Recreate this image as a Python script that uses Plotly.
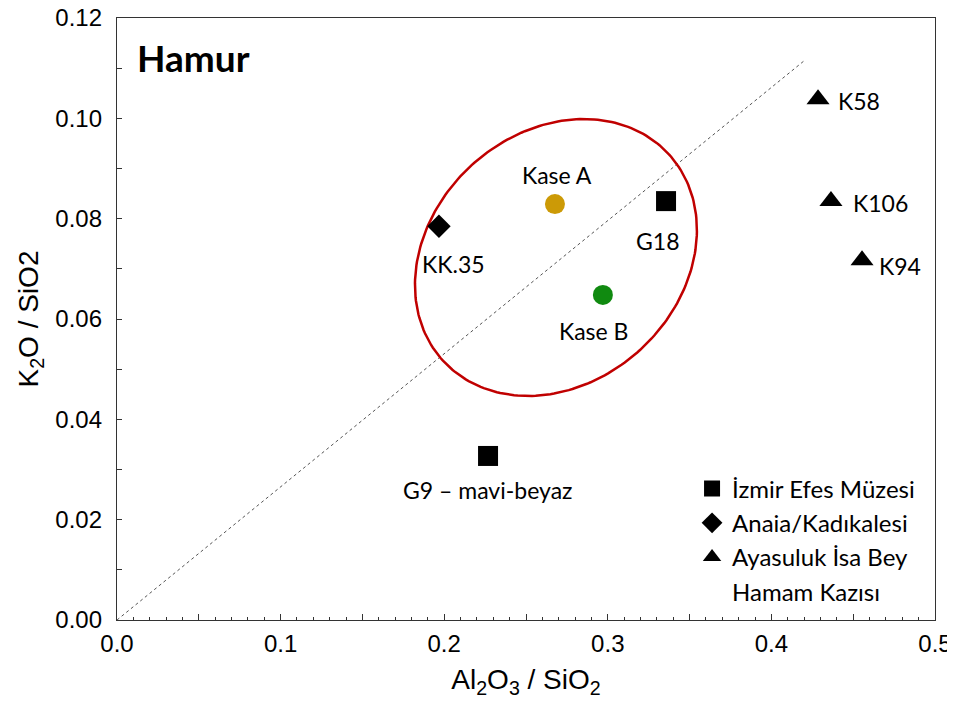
import numpy as np
import plotly.graph_objects as go

# ---- data ----
efes_labels = ["G18", "G9 – mavi-beyaz"]
efes_x = [0.3356, 0.2268]
efes_y = [0.0835, 0.0327]

anaia_labels = ["KK.35"]
anaia_x = [0.1968]
anaia_y = [0.0785]

ayasuluk_labels = ["K58", "K106", "K94"]
ayasuluk_x = [0.4285, 0.4364, 0.4554]
ayasuluk_y = [0.1038, 0.0835, 0.0717]

kase_labels = ["Kase A", "Kase B"]
kase_x = [0.2677, 0.2970]
kase_y = [0.0829, 0.0648]

ref_line_x = [0.0, 0.4205]
ref_line_y = [0.0, 0.1116]

# ellipse (centre and parametric half-vectors, data units)
ell_center = (0.2683, 0.07226)
ell_u = (0.06907, 0.02057)
ell_v = (-0.05153, 0.01840)

x_tickvals = [0.0, 0.05, 0.1, 0.15, 0.2, 0.25, 0.3, 0.35, 0.4, 0.45, 0.5]
x_ticktext = ["0.0", "", "0.1", "", "0.2", "", "0.3", "", "0.4", "", "0.5"]
y_tickvals = [0.0, 0.02, 0.04, 0.06, 0.08, 0.10, 0.12]
y_ticktext = ["0.00", "0.02", "0.04", "0.06", "0.08", "0.10", "0.12"]

LABEL_FONT = "Lato, 'Open Sans', sans-serif"
AXIS_FONT = "'Liberation Sans', Arial, sans-serif"

fig = go.Figure()

# reference diagonal line
fig.add_trace(go.Scatter(x=ref_line_x, y=ref_line_y, mode="lines",
                         line=dict(color="#555555", width=1, dash="dot"),
                         showlegend=False, hoverinfo="skip"))

# ellipse
t = np.linspace(0, 2 * np.pi, 241)
ex = ell_center[0] + ell_u[0] * np.cos(t) + ell_v[0] * np.sin(t)
ey = ell_center[1] + ell_u[1] * np.cos(t) + ell_v[1] * np.sin(t)
fig.add_trace(go.Scatter(x=ex, y=ey, mode="lines",
                         line=dict(color="#C00000", width=2.5),
                         showlegend=False, hoverinfo="skip"))

fig.add_trace(go.Scatter(x=efes_x, y=efes_y, mode="markers", name="İzmir Efes Müzesi",
                         legendgroup="a",
                         marker=dict(symbol="square", size=20, color="black")))
fig.add_trace(go.Scatter(x=anaia_x, y=anaia_y, mode="markers", name="Anaia/Kadıkalesi",
                         legendgroup="b",
                         marker=dict(symbol="diamond", size=18, color="black")))
fig.add_trace(go.Scatter(x=ayasuluk_x, y=ayasuluk_y, mode="markers",
                         name="Ayasuluk İsa Bey",
                         legendgroup="c",
                         marker=dict(symbol="triangle-up", size=20, color="black")))
# second line of the legend entry (no marks)
fig.add_trace(go.Scatter(x=[None], y=[None], mode="markers", name="Hamam Kazısı",
                         legendgroup="d", hoverinfo="skip",
                         marker=dict(symbol="square", size=1, opacity=0, color="white")))
fig.add_trace(go.Scatter(x=kase_x, y=kase_y, mode="markers", showlegend=False,
                         marker=dict(symbol="circle", size=20,
                                     color=["#CC9A06", "#108A10"])))

# point labels: (xshift, yshift, xanchor)
label_offsets = {
    "G18": (-9, -40, "center"),
    "G9 – mavi-beyaz": (-1, -34, "center"),
    "KK.35": (15, -38, "center"),
    "K58": (18, -2, "left"),
    "K106": (20, -2, "left"),
    "K94": (15, -6, "left"),
    "Kase A": (2, 29, "center"),
    "Kase B": (-9, -36, "center"),
}
for labs, xs, ys in [(efes_labels, efes_x, efes_y), (anaia_labels, anaia_x, anaia_y),
                     (ayasuluk_labels, ayasuluk_x, ayasuluk_y), (kase_labels, kase_x, kase_y)]:
    for lab, xv, yv in zip(labs, xs, ys):
        dx, dy, anc = label_offsets[lab]
        fig.add_annotation(x=xv, y=yv, text=lab, showarrow=False,
                           xshift=dx, yshift=dy, xanchor=anc, yanchor="middle",
                           font=dict(family=LABEL_FONT, size=23, color="black"))

fig.add_annotation(xref="paper", yref="paper", x=0.022, y=0.934, text="<b>Hamur</b>",
                   showarrow=False, xanchor="left", yanchor="middle",
                   font=dict(family=LABEL_FONT, size=37, color="black"))

fig.update_layout(
    width=945, height=691,
    margin=dict(l=109, r=18, t=10, b=79),
    paper_bgcolor="white", plot_bgcolor="white",
    font=dict(family=AXIS_FONT, color="black"),
    legend=dict(x=0.703, y=0.255, xanchor="left", yanchor="top",
                traceorder="grouped", tracegroupgap=0,
                bgcolor="rgba(0,0,0,0)",
                font=dict(family=LABEL_FONT, size=24, color="black"),
                itemsizing="trace"),
    xaxis=dict(range=[0, 0.5], tickvals=x_tickvals, ticktext=x_ticktext,
               ticks="inside", ticklen=6, tickwidth=1, tickcolor="#333",
               minor=dict(dtick=0.01, ticks="inside", ticklen=3, tickcolor="#333"),
               showline=True, linecolor="#333", linewidth=1.3, mirror=True,
               showgrid=False, zeroline=False, automargin=False,
               ticklabeloverflow="allow",
               tickfont=dict(size=24, family=AXIS_FONT),
               ticklabelstandoff=2,
               title=dict(text="Al<sub>2</sub>O<sub>3</sub> / SiO<sub>2</sub>",
                          font=dict(size=28, family=AXIS_FONT), standoff=29)),
    yaxis=dict(range=[0, 0.12], tickvals=y_tickvals, ticktext=y_ticktext,
               ticks="inside", ticklen=5, tickwidth=1, tickcolor="#333",
               minor=dict(dtick=0.01, ticks="inside", ticklen=5, tickcolor="#333"),
               showline=True, linecolor="#333", linewidth=1.3, mirror=True,
               showgrid=False, zeroline=False, automargin=False,
               ticklabeloverflow="allow",
               tickfont=dict(size=24, family=AXIS_FONT),
               ticklabelstandoff=9,
               title=dict(text="K<sub>2</sub>O / SiO2",
                          font=dict(size=28, family=AXIS_FONT), standoff=8)),
)

fig.write_html("out.html")
